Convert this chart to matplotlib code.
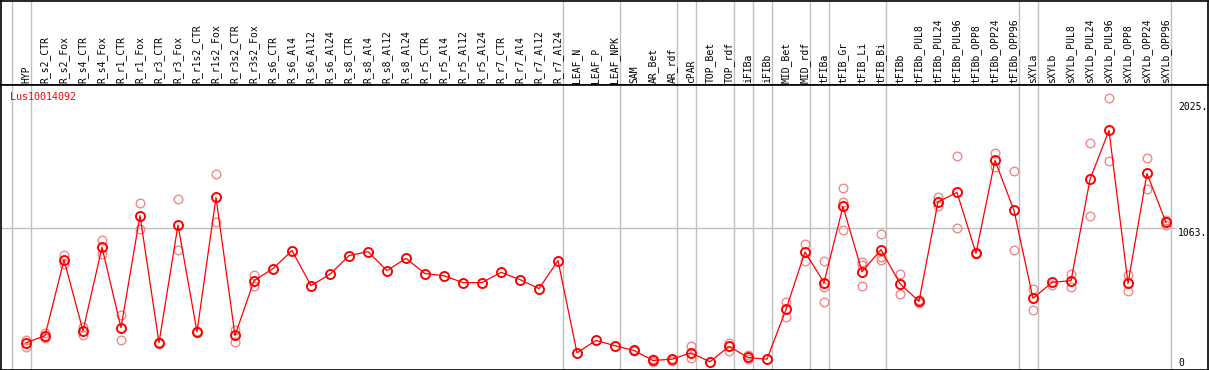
import matplotlib
matplotlib.use("Agg")
import matplotlib.pyplot as plt
import matplotlib.transforms as mtransforms

# ── Data ──────────────────────────────────────────────────────────────────────

gene_id = "Lus10014092"

samples = [
    "HYP", "R_s2_CTR", "R_s2_Fox", "R_s4_CTR", "R_s4_Fox", "R_r1_CTR",
    "R_r1_Fox", "R_r3_CTR", "R_r3_Fox", "R_r1s2_CTR", "R_r1s2_Fox",
    "R_r3s2_CTR", "R_r3s2_Fox", "R_s6_CTR", "R_s6_Al4", "R_s6_Al12",
    "R_s6_Al24", "R_s8_CTR", "R_s8_Al4", "R_s8_Al12", "R_s8_Al24",
    "R_r5_CTR", "R_r5_Al4", "R_r5_Al12", "R_r5_Al24", "R_r7_CTR",
    "R_r7_Al4", "R_r7_Al12", "R_r7_Al24", "LEAF_N", "LEAF_P", "LEAF_NPK",
    "SAM", "AR_Bet", "AR_rdf", "cPAR", "TOP_Bet", "TOP_rdf", "iFIBa",
    "iFIBb", "MID_Bet", "MID_rdf", "tFIBa", "tFIB_Gr", "tFIB_Li", "tFIB_Bi",
    "tFIBb", "tFIBb_PUL8", "tFIBb_PUL24", "tFIBb_PUL96", "tFIBb_OPP8",
    "tFIBb_OPP24", "tFIBb_OPP96", "sXYLa", "sXYLb", "sXYLb_PUL8",
    "sXYLb_PUL24", "sXYLb_PUL96", "sXYLb_OPP8", "sXYLb_OPP24", "sXYLb_OPP96",
]

mean_expr = [
    182, 236, 817, 274, 914, 297, 1157, 182, 1085, 266, 1296, 238, 658,
    750, 889, 620, 707, 850, 881, 735, 829, 712, 696, 643, 643, 722, 666,
    597, 812, 105, 200, 159, 123, 46, 56, 105, 36, 154, 69, 56, 438, 878,
    643, 1227, 727, 896, 635, 499, 1262, 1334, 868, 1580, 1196, 522, 645,
    658, 1434, 1810, 637, 1480, 1104,
]

replicates = [
    [200, 148], [259, 218], [853, 789], [302, 243], [968, 860], [392, 205],
    [1257, 1052], [186, 178], [1283, 896], [270, 262], [1472, 1111],
    [282, 187], [701, 614],
    [], [], [], [], [], [], [], [], [], [], [], [], [], [], [], [],
    [], [], [],
    [128, 118], [55, 35], [60, 45], [154, 67], [], [179, 118], [87, 56], [],
    [492, 379], [942, 809], [812, 609, 497], [1365, 1260, 1050],
    [801, 781, 614], [1019, 840, 814], [712, 558], [512, 489], [1300, 1229],
    [1610, 1065], [870, 866], [1636, 1526], [1498, 896], [597, 435], [627],
    [709, 612], [1710, 1157], [2056, 1572], [699, 576], [1595, 1357],
    [1122, 1086],
]

# last sample index of each tissue group (-1 = left edge)
group_ends = [-1, 0, 28, 31, 34, 35, 37, 38, 39, 41, 42, 45, 52, 53, 60]

y_ticks = [0, 1063, 2025]
y_tick_labels = ["0", "1063.", "2025."]

# ── Style ─────────────────────────────────────────────────────────────────────

RED = "#FF0000"
PINK = "#F08A8A"
GREY = "#C0C0C0"
FONT = "DejaVu Sans Mono"

W, H = 1209, 370
fig = plt.figure(figsize=(W / 100, H / 100), dpi=100, facecolor="white")

def px_box(x0, y0, x1, y1):
    # pixel box (top-left origin) -> figure fraction rect
    return [x0 / W, 1 - y1 / H, (x1 - x0) / W, (y1 - y0) / H]

ax_head = fig.add_axes(px_box(1, 0.5, 1207.5, 85))
ax = fig.add_axes(px_box(1, 85, 1207.5, 369.5))

xlim = ((1 - 26) / 19, (1207.5 - 26) / 19)
for a in (ax, ax_head):
    a.set_xlim(*xlim)
    a.set_xticks([])
    a.set_yticks([])
    for s in a.spines.values():
        s.set_color("black")
        s.set_linewidth(1.2)
    for g in group_ends:
        a.axvline(g + 0.25, color=GREY, lw=1.0, zorder=0)

ax.set_ylim(-23, 2158)
ax_head.set_ylim(0, 1)

# ── Header labels ─────────────────────────────────────────────────────────────

for i, name in enumerate(samples):
    ax_head.text(i, 0.025, name, rotation=90, ha="center", va="bottom",
                 fontsize=7, family=FONT, color="black")

# ── Plot ──────────────────────────────────────────────────────────────────────

grid_end = (1176 - 1) / 1206.5
ax.axhline(y_ticks[1], xmin=0, xmax=grid_end, color=GREY, lw=1.0, zorder=0)

for i, reps in enumerate(replicates):
    if reps:
        ax.plot([i] * len(reps), reps, "o", ms=6.2, mfc="none", mec=PINK,
                mew=1.0, zorder=2)

x = list(range(len(samples)))
ax.plot(x, mean_expr, "-", color=RED, lw=0.9, zorder=3)
ax.plot(x, mean_expr, "o", ms=6.5, mfc="none", mec=RED, mew=1.4, zorder=4)

trans = mtransforms.blended_transform_factory(ax.transAxes, ax.transData)
lab_x = (1178 - 1) / 1206.5
for v, lab in zip(y_ticks, y_tick_labels):
    ax.text(lab_x, v, lab, transform=trans, ha="left",
            va="baseline" if v == 0 else "top",
            fontsize=7, family=FONT, color="black")

ax.text(9 / 1206.5, 1 - 7 / 284.5, gene_id, transform=ax.transAxes,
        ha="left", va="top", fontsize=7.2, family=FONT, color=RED)

fig.savefig("out.png", dpi=100, facecolor="white")
